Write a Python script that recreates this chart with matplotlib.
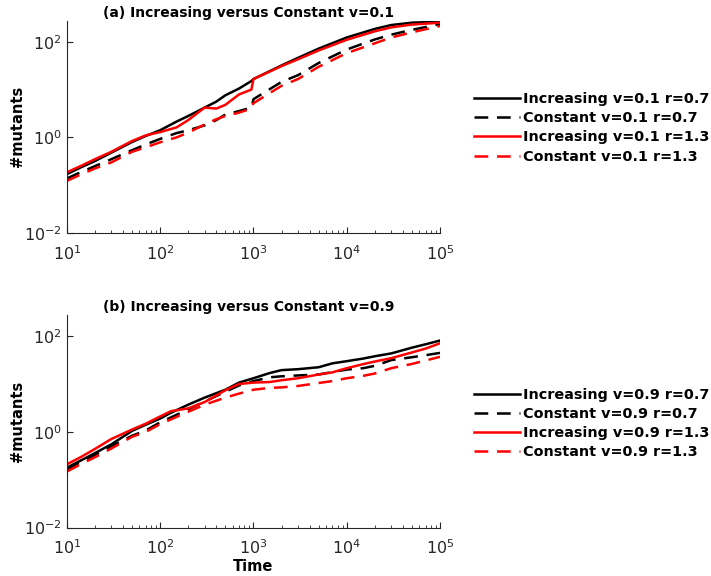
#!/usr/bin/env python3
"""
Mutant count over time: increasing vs constant rate, two v values
"""

import matplotlib
matplotlib.use('Agg')
import matplotlib.pyplot as plt
from matplotlib.ticker import LogLocator, NullLocator, NullFormatter

plt.rcParams['axes.unicode_minus'] = False

# (a) v=0.1
time_a = [10, 14, 20, 30, 50, 70, 100, 150, 200, 300, 400, 500, 700, 950,
          1000, 2000, 3000, 5000, 10000, 20000, 30000, 50000, 100000]
inc_v01_r07 = [0.17, 0.234, 0.32, 0.48, 0.80, 1.07, 1.41, 2.14, 2.8, 4.2, 5.6, 7.6,
               10.5, 15.1, 16.6, 32, 46, 72, 123, 186, 224, 251, 263]
const_v01_r07 = [0.138, 0.186, 0.25, 0.35, 0.54, 0.71, 0.93, 1.23, 1.41, 1.78, 2.3, 3.0,
                 3.55, 4.2, 6.3, 14.5, 20, 36, 69, 112, 141, 178, 234]
inc_v01_r13 = [0.186, 0.25, 0.35, 0.50, 0.84, 1.1, 1.29, 1.62, 2.3, 4.2, 4.0, 4.8,
               7.9, 10, 16.6, 31, 43, 66, 110, 166, 200, 229, 251]
const_v01_r13 = [0.123, 0.166, 0.224, 0.30, 0.50, 0.62, 0.79, 1.0, 1.26, 1.86, 2.4, 2.8,
                 3.3, 4.0, 5.2, 12, 16.6, 30, 58, 93, 123, 158, 214]

# (b) v=0.9
time_b = [10, 14, 20, 30, 50, 70, 100, 130, 200, 300, 500, 700, 1000, 1500, 2000,
          3000, 5000, 7000, 10000, 15000, 20000, 30000, 50000, 70000, 100000]
inc_v09_r07 = [0.178, 0.25, 0.36, 0.55, 1.05, 1.41, 1.9, 2.5, 3.7, 5.2, 7.6, 10.7, 13.2,
               17, 19.5, 20.4, 22.4, 27, 30, 34, 38, 43.6, 57.5, 67.6, 81]
const_v09_r07 = [0.162, 0.234, 0.33, 0.50, 0.83, 1.07, 1.58, 2.0, 2.95, 4.3, 6.9, 9.3, 11.5,
                 13.8, 14.5, 15.1, 15.8, 17.8, 20, 21.4, 24, 31.6, 36.3, 40, 44.7]
inc_v09_r13 = [0.21, 0.295, 0.44, 0.71, 1.12, 1.48, 2.1, 2.7, 3.1, 4.2, 7.4, 10, 10.7,
               11, 12, 13.2, 15.8, 17.5, 21.4, 26, 29.5, 34.7, 45.7, 55, 71]
const_v09_r13 = [0.148, 0.21, 0.295, 0.45, 0.79, 1.0, 1.45, 1.82, 2.63, 3.7, 5.2, 6.3, 7.6,
                 8.3, 8.5, 9.1, 10.5, 11.5, 13.2, 14.8, 16.6, 21.4, 26.3, 31, 37]

GREY = '#262626'
LW = 1.8
DASH = (5.5, 3.5)


def style_axes(ax):
    ax.set_xscale('log')
    ax.set_yscale('log')
    ax.set_xlim(10, 1e5)
    ax.set_ylim(1e-2, 10 ** 2.44)
    ax.spines['top'].set_visible(False)
    ax.spines['right'].set_visible(False)
    for s in ('left', 'bottom'):
        ax.spines[s].set_color(GREY)
        ax.spines[s].set_linewidth(0.8)
    ax.xaxis.set_major_locator(LogLocator(base=10, numticks=10))
    ax.xaxis.set_minor_locator(LogLocator(base=10, subs=range(2, 10), numticks=20))
    ax.xaxis.set_minor_formatter(NullFormatter())
    ax.yaxis.set_major_locator(LogLocator(base=100, numticks=10))
    ax.yaxis.set_minor_locator(NullLocator())
    ax.tick_params(which='both', direction='in', colors=GREY, labelsize=11.5)
    ax.tick_params(which='major', length=4, width=0.8)
    ax.tick_params(which='minor', length=2, width=0.6)
    ax.tick_params(axis='x', pad=8)
    ax.set_ylabel('#mutants', fontsize=10.5, fontweight='bold')
    ax.yaxis.set_label_coords(-0.112, 0.5)


def draw_panel(ax, t, inc_lo, const_lo, inc_hi, const_hi, v, title):
    ax.plot(t, inc_lo, color='k', lw=LW, label=f'Increasing v={v} r=0.7')
    ax.plot(t, const_lo, color='k', lw=LW, dashes=DASH, label=f'Constant v={v} r=0.7')
    ax.plot(t, inc_hi, color='r', lw=LW, label=f'Increasing v={v} r=1.3')
    ax.plot(t, const_hi, color='r', lw=LW, dashes=DASH, label=f'Constant v={v} r=1.3')
    ax.set_title(title, fontsize=10, fontweight='bold', pad=3, x=0.486)
    style_axes(ax)


fig = plt.figure(figsize=(7.11, 5.76), dpi=100)
ax1 = fig.add_axes([0.094, 0.5955, 0.525, 0.3685])
ax2 = fig.add_axes([0.094, 0.084, 0.525, 0.369])

draw_panel(ax1, time_a, inc_v01_r07, const_v01_r07, inc_v01_r13, const_v01_r13,
           '0.1', '(a) Increasing versus Constant v=0.1')
draw_panel(ax2, time_b, inc_v09_r07, const_v09_r07, inc_v09_r13, const_v09_r13,
           '0.9', '(b) Increasing versus Constant v=0.9')
ax2.set_xlabel('Time', fontsize=10.5, fontweight='bold', labelpad=1)

leg_kw = dict(frameon=False, handlelength=3.2, handletextpad=0.2, labelspacing=0.36,
              borderaxespad=0, borderpad=0, prop={'weight': 'bold', 'size': 10.4})
fig.legend(handles=ax1.get_lines(), loc='center left',
           bbox_to_anchor=(0.666, 0.778), **leg_kw)
fig.legend(handles=ax2.get_lines(), loc='center left',
           bbox_to_anchor=(0.666, 0.265), **leg_kw)

fig.savefig('out.png', dpi=100)
plt.close(fig)
